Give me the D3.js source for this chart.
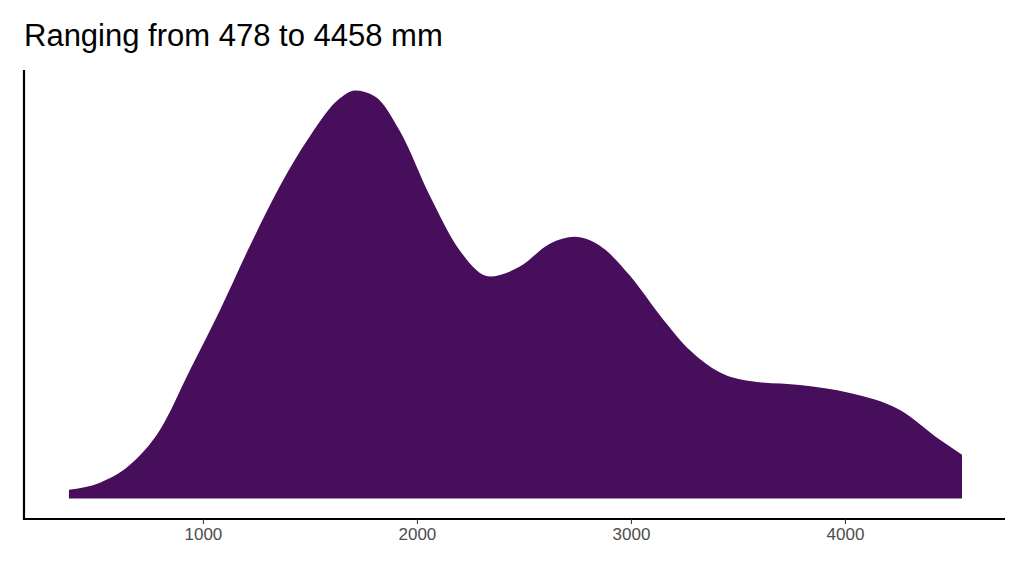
<!DOCTYPE html>
<html><head><meta charset="utf-8">
<script src="https://cdn.jsdelivr.net/npm/d3@7"></script>
<style>body{margin:0;background:#fff}</style></head>
<body><svg id="c" width="1024" height="576"></svg>
<script>
const rainfall = [374,519,659,799,939,1079,1220,1360,1500,1640,1710,1804,1921,2061,2201,2341,2481,2621,2738,2855,2995,3136,3276,3414,3556,3790,4023,4257,4444,4547];
const density = [9,16,34,69,129,189,254,314,364,402,410,404,369,304,249,223,233,256,263,254,224,184,149,127,118,114,106,89,59,44];
const xTicks = [1000,2000,3000,4000];
const title = "Ranging from 478 to 4458 mm";

const svg = d3.select("#c");
const x = d3.scaleLinear().domain([164,4748]).range([24,1005]);
const y = d3.scaleLinear().domain([-20.5,430.5]).range([519,70]);
const pts = rainfall.map((r,i)=>[r,density[i]]);
const area = d3.area().x(d=>x(d[0])).y0(y(0)).y1(d=>y(d[1])).curve(d3.curveMonotoneX);
svg.append("path").datum(pts).attr("d",area).attr("fill","#470e5b");

const ax = svg.append("g").attr("transform","translate(0,519)")
  .call(d3.axisBottom(x).tickValues(xTicks).tickSize(5).tickPadding(4).tickFormat(d3.format("d")));
ax.select(".domain").attr("stroke","#000").attr("stroke-width",2.2).attr("d","M24,0H1005");
ax.selectAll(".tick line").attr("stroke","#333");
ax.selectAll("text").attr("fill","#4d4d4d").style("font-family","Liberation Sans, Arial, sans-serif").style("font-size","17px");
svg.append("line").attr("x1",24).attr("x2",24).attr("y1",70).attr("y2",520).attr("stroke","#000").attr("stroke-width",2.2);
svg.append("text").attr("x",24).attr("y",46).text(title)
  .style("font-family","Liberation Sans, Arial, sans-serif").style("font-size","31px").attr("fill","#000");
</script></body></html>
